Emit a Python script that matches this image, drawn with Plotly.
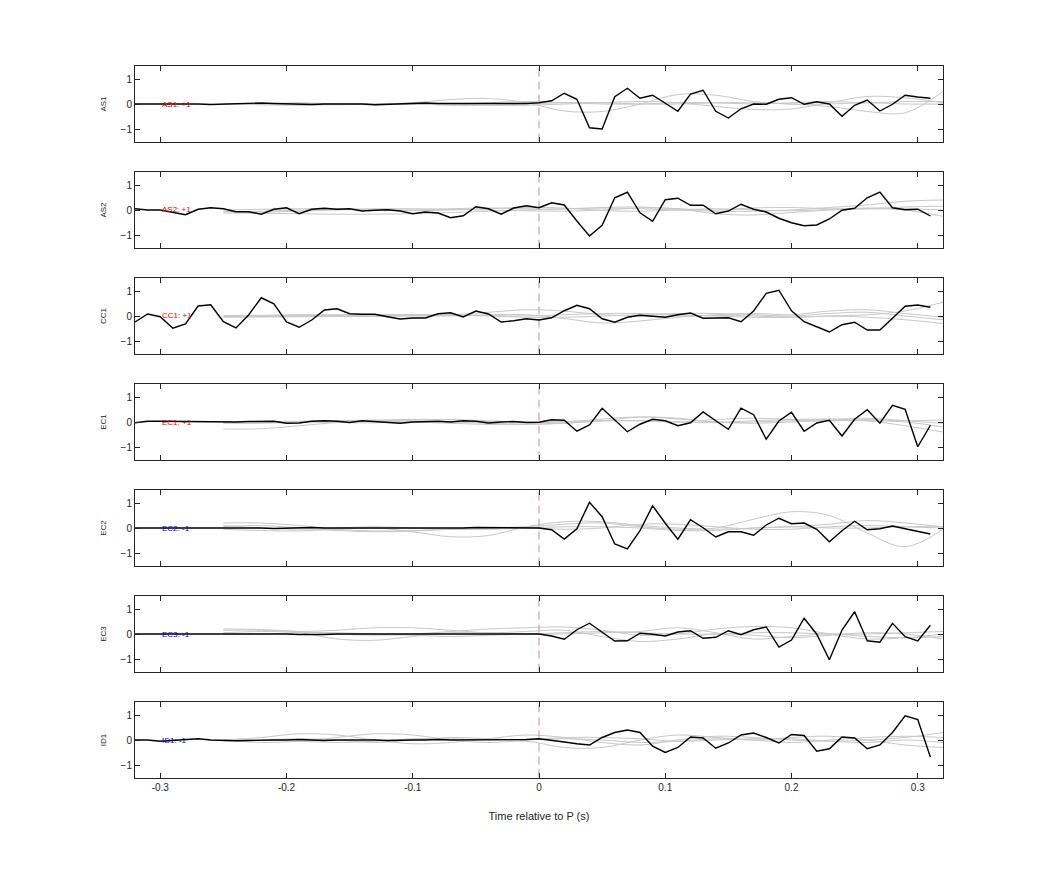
import numpy as np
import plotly.graph_objects as go

stations = ["AS1", "AS2", "CC1", "EC1", "EC2", "EC3", "ID1"]
polarity = ["+1", "+1", "+1", "+1", "-1", "-1", "-1"]

t_black = np.round(np.arange(-0.32, 0.315, 0.01), 2)
t_gray = np.round(np.arange(-0.25, 0.325, 0.03), 2)

black = {
    "AS1": [0.0, 0.0, 0.02, 0.03, 0.02, 0.0, -0.02, 0.0, 0.02, 0.05, 0.04, 0.02, 0.0, 0.0, -0.02, 0.0,
            0.0, 0.02, 0.0, -0.03, -0.02, 0.0, 0.03, 0.04, 0.02, 0.02, 0.0, 0.0, 0.02, 0.03, 0.02, 0.02,
            0.05, 0.13, 0.43, 0.19, -0.95, -1.0, 0.29, 0.63, 0.23, 0.35, 0.03, -0.29, 0.4, 0.55, -0.29, -0.56,
            -0.19, 0.0, -0.01, 0.19, 0.25, -0.01, 0.09, 0.0, -0.49, -0.05, 0.16, -0.28, -0.01, 0.35, 0.28, 0.23],
    "AS2": [0.05, 0.0, 0.0, -0.08, -0.19, 0.03, 0.09, 0.05, -0.07, -0.07, -0.17, 0.03, 0.09, -0.15, 0.03, 0.07,
            0.03, 0.05, -0.04, -0.01, 0.01, -0.04, -0.15, -0.08, -0.12, -0.31, -0.23, 0.13, 0.05, -0.17, 0.08, 0.17,
            0.09, 0.29, 0.2, -0.44, -1.04, -0.61, 0.49, 0.71, -0.11, -0.45, 0.41, 0.47, 0.19, 0.19, -0.15, -0.04,
            0.23, 0.03, -0.08, -0.33, -0.51, -0.63, -0.6, -0.36, -0.01, 0.07, 0.49, 0.72, 0.09, 0.01, 0.03, -0.24],
    "CC1": [-0.24, 0.08, -0.03, -0.49, -0.32, 0.4, 0.45, -0.23, -0.48, 0.04, 0.73, 0.49, -0.24, -0.45, -0.16, 0.24,
            0.29, 0.09, 0.07, 0.07, -0.03, -0.12, -0.08, -0.08, 0.09, 0.13, -0.04, 0.2, 0.08, -0.24, -0.19, -0.11,
            -0.16, -0.07, 0.21, 0.43, 0.29, -0.11, -0.25, -0.05, 0.03, -0.01, -0.05, 0.05, 0.12, -0.09, -0.08, -0.07,
            -0.23, 0.2, 0.91, 1.03, 0.21, -0.23, -0.43, -0.64, -0.35, -0.25, -0.56, -0.56, -0.09, 0.39, 0.44, 0.35],
    "EC1": [-0.03, 0.03, 0.03, 0.02, 0.02, 0.0, 0.0, -0.02, 0.0, 0.02, 0.03, 0.03, -0.05, -0.04, 0.03, 0.05,
            0.03, -0.02, 0.05, 0.02, 0.0, -0.05, 0.0, 0.02, 0.03, 0.0, 0.05, 0.03, -0.04, 0.0, 0.02, -0.02,
            -0.01, 0.09, 0.07, -0.37, -0.12, 0.55, 0.08, -0.39, -0.09, 0.11, 0.05, -0.15, -0.03, 0.4, 0.05, -0.29,
            0.55, 0.29, -0.69, 0.04, 0.39, -0.37, -0.04, 0.07, -0.56, 0.11, 0.49, -0.05, 0.67, 0.51, -0.99, -0.13],
    "EC2": [0.0, 0.0, 0.0, 0.0, 0.0, 0.0, 0.0, 0.02, 0.03, 0.02, 0.0, -0.02, 0.0, 0.0, 0.02, 0.0,
            0.0, 0.0, 0.0, 0.0, 0.0, -0.02, -0.03, -0.02, 0.0, 0.0, 0.0, 0.02, 0.02, 0.02, 0.02, 0.02,
            0.0, -0.07, -0.44, -0.03, 1.03, 0.45, -0.64, -0.84, -0.11, 0.89, 0.19, -0.45, 0.33, 0.01, -0.36, -0.15,
            -0.15, -0.29, 0.12, 0.39, 0.17, 0.2, -0.05, -0.55, -0.11, 0.27, -0.07, -0.03, 0.08, -0.03, -0.12, -0.24],
    "EC3": [0.0, 0.0, 0.0, 0.0, 0.0, 0.0, 0.0, 0.02, 0.03, 0.02, 0.0, 0.0, 0.0, -0.02, -0.03, -0.02,
            0.0, 0.0, 0.0, 0.0, 0.0, 0.0, 0.0, 0.0, 0.0, 0.0, 0.0, 0.0, 0.0, 0.0, 0.0, 0.0,
            0.0, -0.08, -0.21, 0.17, 0.43, 0.07, -0.28, -0.27, 0.03, -0.01, -0.08, 0.08, 0.13, -0.17, -0.13, 0.13,
            -0.03, 0.17, 0.28, -0.52, -0.24, 0.63, -0.01, -1.03, 0.16, 0.89, -0.27, -0.33, 0.43, -0.11, -0.28, 0.35],
    "ID1": [0.0, 0.0, -0.05, -0.02, 0.0, 0.05, 0.0, -0.03, -0.03, -0.02, 0.0, 0.0, 0.0, 0.02, 0.0, -0.02,
            0.0, 0.0, 0.02, 0.0, -0.02, 0.0, 0.0, 0.0, 0.02, 0.0, 0.0, 0.0, 0.0, 0.0, 0.02, 0.02,
            0.05, 0.0, -0.08, -0.15, -0.2, 0.1, 0.3, 0.4, 0.3, -0.25, -0.5, -0.3, 0.12, 0.08, -0.33, -0.12,
            0.2, 0.28, 0.1, -0.12, 0.22, 0.18, -0.45, -0.35, 0.12, 0.08, -0.35, -0.2, 0.3, 0.97, 0.82, -0.68],
}

gray = {
    "AS1": [[0.0, 0.02, 0.0, -0.03, 0.0, 0.05, 0.18, 0.22, 0.05, -0.28, -0.3, 0.0, 0.38, 0.35, 0.1, 0.0, 0.0, 0.05, 0.0, 0.0],
            [0.0, 0.0, 0.05, 0.0, -0.03, 0.0, 0.0, -0.05, -0.05, 0.0, 0.05, 0.1, 0.05, -0.1, -0.22, -0.2, 0.05, 0.3, 0.25, 0.05],
            [0.0, -0.03, -0.05, -0.02, 0.0, 0.0, -0.05, -0.05, 0.0, 0.05, 0.05, 0.0, 0.0, 0.05, 0.05, 0.0, -0.1, -0.3, -0.35, 0.5],
            [0.0, 0.0, 0.02, 0.0, 0.0, -0.02, 0.0, 0.05, 0.1, 0.05, 0.0, 0.0, 0.05, 0.05, 0.0, 0.05, 0.1, 0.05, 0.1, 0.1]],
    "AS2": [[-0.12, -0.13, -0.15, -0.17, -0.17, -0.15, -0.1, -0.05, 0.0, 0.05, 0.08, 0.05, 0.0, -0.05, -0.05, 0.0, 0.1, 0.2, 0.35, 0.4],
            [-0.05, -0.08, -0.05, 0.0, 0.05, 0.05, 0.03, 0.0, -0.03, -0.05, 0.0, 0.08, 0.05, -0.15, -0.2, -0.1, 0.0, 0.05, 0.0, -0.25],
            [0.0, 0.03, 0.05, 0.05, 0.02, 0.0, 0.05, 0.08, 0.05, 0.03, 0.1, 0.12, 0.05, 0.0, 0.08, 0.1, 0.05, 0.05, 0.12, 0.15],
            [-0.08, -0.05, 0.0, 0.02, 0.0, -0.03, 0.0, 0.05, 0.1, 0.08, -0.02, -0.05, 0.0, 0.05, 0.0, -0.03, 0.02, 0.08, 0.05, 0.0]],
    "CC1": [[-0.03, -0.02, 0.0, 0.0, 0.02, 0.03, 0.05, 0.15, 0.25, 0.2, 0.05, 0.0, 0.0, 0.02, 0.0, -0.05, 0.0, 0.05, 0.2, 0.55],
            [-0.05, -0.04, -0.03, -0.02, -0.02, 0.0, 0.0, 0.05, 0.05, -0.1, -0.28, -0.2, -0.05, 0.05, 0.1, 0.05, 0.2, 0.25, 0.1, -0.05],
            [0.0, 0.0, 0.02, 0.03, 0.05, 0.05, 0.05, 0.02, 0.0, 0.05, 0.1, 0.1, 0.05, 0.0, -0.05, -0.05, 0.0, -0.05, -0.15, -0.3],
            [0.02, 0.03, 0.05, 0.05, 0.05, 0.05, 0.03, 0.0, -0.05, -0.05, 0.0, 0.05, 0.1, 0.1, 0.05, 0.0, 0.1, 0.15, 0.0, -0.15]],
    "EC1": [[-0.28, -0.27, -0.15, -0.02, 0.05, 0.05, 0.0, -0.05, -0.08, -0.05, 0.05, 0.2, 0.15, 0.0, 0.05, 0.1, 0.12, 0.05, -0.15, -0.4],
            [-0.05, -0.05, 0.0, 0.05, 0.08, 0.1, 0.1, 0.05, -0.02, 0.0, 0.12, 0.2, 0.12, 0.0, -0.05, 0.0, 0.05, 0.05, 0.0, -0.2],
            [0.0, 0.02, 0.03, 0.05, 0.03, 0.0, -0.05, -0.1, -0.1, -0.05, 0.05, 0.05, 0.0, 0.1, 0.15, 0.1, 0.05, 0.1, 0.05, 0.08],
            [0.0, 0.0, 0.0, -0.02, -0.03, 0.0, 0.03, 0.02, 0.0, 0.02, 0.05, 0.05, 0.0, -0.03, 0.0, 0.05, 0.1, 0.15, 0.05, -0.05]],
    "EC2": [[0.2, 0.2, 0.1, -0.05, -0.12, -0.1, -0.05, 0.0, 0.05, 0.15, 0.2, 0.05, -0.05, 0.0, 0.35, 0.65, 0.5, -0.2, -0.75, -0.05],
            [-0.05, -0.1, -0.12, -0.05, 0.0, -0.15, -0.35, -0.3, 0.05, 0.25, 0.25, 0.1, 0.0, -0.05, 0.0, 0.05, 0.15, 0.3, 0.2, 0.05],
            [0.05, 0.1, 0.0, -0.1, -0.15, -0.12, -0.05, 0.0, 0.0, -0.05, 0.0, 0.15, 0.15, 0.05, -0.05, -0.05, 0.05, 0.1, 0.05, 0.0],
            [0.1, 0.0, -0.05, 0.0, 0.05, 0.0, -0.05, -0.05, 0.0, 0.05, 0.05, 0.0, -0.1, -0.1, 0.0, 0.05, 0.0, 0.0, 0.05, 0.05]],
    "EC3": [[0.2, 0.18, 0.1, 0.0, -0.05, 0.0, 0.1, 0.2, 0.25, 0.28, 0.15, -0.05, 0.0, 0.2, 0.3, 0.25, 0.0, -0.2, -0.15, 0.0],
            [0.15, 0.15, 0.1, 0.15, 0.25, 0.25, 0.15, 0.05, 0.1, 0.15, -0.1, -0.3, -0.2, 0.0, -0.05, -0.15, -0.05, 0.05, 0.0, -0.2],
            [0.05, 0.1, 0.05, -0.2, -0.25, -0.1, 0.05, 0.05, 0.0, 0.0, 0.05, 0.1, 0.25, 0.05, -0.2, -0.1, 0.0, -0.1, -0.15, -0.1],
            [0.0, 0.0, 0.05, 0.05, 0.0, -0.05, -0.1, -0.05, 0.0, 0.05, 0.1, 0.05, 0.0, 0.0, 0.05, 0.05, 0.0, 0.0, 0.05, 0.1]],
    "ID1": [[0.0, 0.1, 0.25, 0.2, 0.0, -0.15, -0.1, 0.05, 0.2, 0.1, -0.1, -0.2, 0.0, 0.15, 0.1, 0.0, -0.05, 0.0, 0.1, 0.3],
            [0.0, -0.1, -0.05, 0.1, 0.25, 0.2, 0.0, -0.1, -0.05, -0.3, -0.3, 0.0, 0.2, 0.1, 0.0, 0.1, 0.15, 0.0, -0.2, -0.3],
            [-0.05, 0.0, 0.05, 0.0, -0.1, 0.0, 0.1, 0.05, 0.0, 0.05, 0.0, -0.1, -0.05, 0.05, 0.0, -0.1, 0.0, 0.1, 0.15, 0.1],
            [0.0, 0.0, -0.05, -0.1, -0.05, 0.05, 0.05, 0.0, 0.0, 0.1, 0.1, 0.05, -0.05, 0.0, 0.05, 0.05, -0.05, -0.1, 0.0, -0.1]],
}

x_ticks = [-0.3, -0.2, -0.1, 0, 0.1, 0.2, 0.3]
x_ticklabels = ["-0.3", "-0.2", "-0.1", "0", "0.1", "0.2", "0.3"]
y_ticks = [-1, 0, 1]

# page body has an 8px margin; figure drawn inside it
OFF = 8
W, H = 1042 - 2 * OFF, 875 - 2 * OFF
fig = go.Figure()
axis_col = "#262626"
font_fam = "Liberation Sans, Arial, sans-serif"

for i, st in enumerate(stations):
    n = i + 1
    xa = "x" if n == 1 else f"x{n}"
    ya = "y" if n == 1 else f"y{n}"
    top_px = 66 + 106 * i - OFF
    bot_px = 142 + 106 * i - OFF
    for g in gray[st]:
        fig.add_trace(go.Scatter(x=t_gray, y=g, mode="lines", xaxis=xa, yaxis=ya,
                                 line=dict(color="#c8c8c8", width=1, shape="spline", smoothing=1.0),
                                 showlegend=False, hoverinfo="skip"))
    fig.add_trace(go.Scatter(x=[0, 0], y=[-1.5, 1.5], mode="lines", xaxis=xa, yaxis=ya,
                             line=dict(color="#c09090", width=1, dash="8px,5px"),
                             showlegend=False, hoverinfo="skip"))
    fig.add_trace(go.Scatter(x=t_black, y=black[st], mode="lines", xaxis=xa, yaxis=ya,
                             line=dict(color="black", width=1.4),
                             showlegend=False))
    col = "#e00000" if polarity[i].startswith("+") else "#0000d0"
    fig.add_annotation(x=-0.3, y=0, xref=xa, yref=ya, text=f"{st}: {polarity[i]}",
                       showarrow=False, xanchor="left", yanchor="middle",
                       font=dict(size=8, color=col, family=font_fam))
    xkey = "xaxis" if n == 1 else f"xaxis{n}"
    ykey = "yaxis" if n == 1 else f"yaxis{n}"
    fig.update_layout(**{
        xkey: dict(domain=[(135 - OFF) / W, (943 - OFF) / W], range=[-0.32, 0.32], anchor=ya,
                   tickvals=x_ticks, ticktext=x_ticklabels, showticklabels=(n == 7),
                   ticks="inside", ticklen=5, tickcolor=axis_col, showline=True, linecolor=axis_col,
                   linewidth=1, mirror="ticks", showgrid=False, zeroline=False,
                   tickfont=dict(size=10, color=axis_col, family=font_fam),
                   title=dict(text="Time relative to P (s)" if n == 7 else "",
                              font=dict(size=11, color=axis_col, family=font_fam), standoff=20)),
        ykey: dict(domain=[1 - bot_px / H, 1 - top_px / H], range=[-1.52, 1.52], anchor=xa,
                   tickvals=y_ticks, ticks="inside", ticklen=5, tickcolor=axis_col,
                   showline=True, linecolor=axis_col, linewidth=1, mirror="ticks",
                   showgrid=False, zeroline=False,
                   tickfont=dict(size=10, color=axis_col, family=font_fam),
                   title=dict(text=st, font=dict(size=8, color=axis_col, family=font_fam), standoff=12)),
    })

fig.update_layout(width=W, height=H, margin=dict(l=0, r=0, t=0, b=0),
                  plot_bgcolor="white", paper_bgcolor="white",
                  font=dict(family=font_fam, color=axis_col))
fig.write_html("out.html")
